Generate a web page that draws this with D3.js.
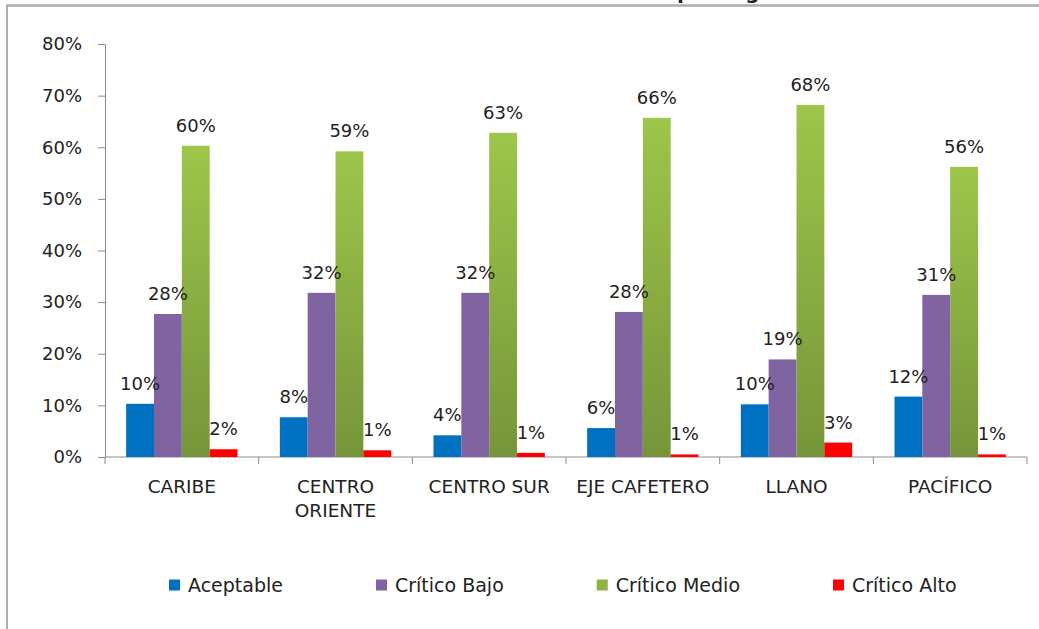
<!DOCTYPE html>
<html>
<head>
<meta charset="utf-8">
<script src="https://cdn.jsdelivr.net/npm/d3@7/dist/d3.min.js"></script>
<style>
  body { margin: 0; background: #fff; }
  text { font-family: "DejaVu Sans", sans-serif; fill: #222; }
  .axis path, .axis line { stroke: #8c8c8c; }
</style>
</head>
<body>
<div id="chart"></div>
<script>
var regions = ["CARIBE", "CENTRO ORIENTE", "CENTRO SUR", "EJE CAFETERO", "LLANO", "PACÍFICO"];
var seriesNames = ["Aceptable", "Crítico Bajo", "Crítico Medio", "Crítico Alto"];
var aceptable = [10.3, 7.7, 4.2, 5.6, 10.2, 11.7];
var criticoBajo = [27.7, 31.8, 31.8, 28.1, 18.9, 31.4];
var criticoMedio = [60.3, 59.2, 62.8, 65.7, 68.2, 56.2];
var criticoAlto = [1.5, 1.3, 0.8, 0.5, 2.8, 0.5];
var yTicks = [0, 10, 20, 30, 40, 50, 60, 70, 80];
var colors = ["#0070C0", "#8064A2", "url(#greenGrad)", "#FF0000"];
var legendColors = ["#0070C0", "#8064A2", "#8DB443", "#FF0000"];

var allSeries = [aceptable, criticoBajo, criticoMedio, criticoAlto];

var width = 1039, height = 629;
var margin = { top: 44, right: 12, bottom: 172, left: 105 };

var svg = d3.select("#chart").append("svg")
  .attr("width", width)
  .attr("height", height);

// green bars have a light-to-dark fade
var grad = svg.append("defs").append("linearGradient")
  .attr("id", "greenGrad")
  .attr("x1", 0).attr("y1", 0).attr("x2", 0).attr("y2", 1);
grad.append("stop").attr("offset", "0%").attr("stop-color", "#9DC64A");
grad.append("stop").attr("offset", "100%").attr("stop-color", "#76953A");

// frame (top and left edges only)
svg.append("line")
  .attr("x1", 6).attr("x2", width).attr("y1", 5.5).attr("y2", 5.5)
  .attr("stroke", "#adadad").attr("stroke-width", 2.5);
svg.append("line")
  .attr("x1", 7).attr("x2", 7).attr("y1", 5).attr("y2", height)
  .attr("stroke", "#adadad").attr("stroke-width", 2);

// title sits above the crop, only the descenders show
svg.append("text")
  .attr("x", 677)
  .attr("y", -1.5)
  .style("font-weight", "bold")
  .style("font-size", "20px")
  .text("por región");

var x0 = d3.scaleBand()
  .domain(regions)
  .range([margin.left, width - margin.right])
  .padding(0);

var x1 = d3.scaleBand()
  .domain(seriesNames)
  .range([0, x0.bandwidth()])
  .paddingInner(0)
  .paddingOuter(0.76);

var y = d3.scaleLinear()
  .domain([0, 80])
  .range([457, margin.top]);

// y axis
var yAxis = d3.axisLeft(y)
  .tickValues(yTicks)
  .tickFormat(function (d) { return d + "%"; })
  .tickSize(7)
  .tickSizeOuter(0)
  .tickPadding(16);

svg.append("g")
  .attr("class", "axis")
  .attr("transform", "translate(" + margin.left + ",0)")
  .call(yAxis)
  .selectAll("text")
  .style("font-size", "18px")
  .style("fill", "#222");

// x axis line with ticks at the group boundaries
var xg = svg.append("g").attr("class", "axis");
xg.append("line")
  .attr("x1", x0.range()[0]).attr("x2", x0.range()[1])
  .attr("y1", y(0)).attr("y2", y(0));
var bounds = regions.map(function (r) { return x0(r); }).concat([x0.range()[1]]);
xg.selectAll(".xtick")
  .data(bounds)
  .enter().append("line")
  .attr("class", "xtick")
  .attr("x1", function (d) { return d; })
  .attr("x2", function (d) { return d; })
  .attr("y1", y(0))
  .attr("y2", y(0) + 7);

// category labels, wrapped when wider than the band
var catLabels = svg.selectAll(".cat")
  .data(regions)
  .enter().append("text")
  .attr("class", "cat")
  .attr("x", function (d) { return x0(d) + x0.bandwidth() / 2; })
  .attr("y", 493)
  .style("text-anchor", "middle")
  .style("font-size", "18.5px")
  .text(function (d) { return d; });

catLabels.each(function (d) {
  var t = d3.select(this);
  if (this.getComputedTextLength() > x0.bandwidth() - 4) {
    var words = d.split(" ");
    t.text(null);
    words.forEach(function (w, i) {
      t.append("tspan")
        .attr("x", x0(d) + x0.bandwidth() / 2)
        .attr("dy", i === 0 ? 0 : 24)
        .text(w);
    });
  }
});

// bars
var groups = svg.selectAll(".region")
  .data(regions)
  .enter().append("g")
  .attr("class", "region")
  .attr("transform", function (d) { return "translate(" + x0(d) + ",0)"; });

groups.selectAll("rect")
  .data(function (d, i) {
    return seriesNames.map(function (s, j) { return { s: s, j: j, v: allSeries[j][i] }; });
  })
  .enter().append("rect")
  .attr("x", function (d) { return x1(d.s); })
  .attr("width", x1.bandwidth())
  .attr("y", function (d) { return y(d.v); })
  .attr("height", function (d) { return y(0) - y(d.v); })
  .attr("fill", function (d) { return colors[d.j]; });

// value labels go on top of everything
groups.selectAll(".lbl")
  .data(function (d, i) {
    return seriesNames.map(function (s, j) { return { s: s, j: j, v: allSeries[j][i] }; });
  })
  .enter().append("text")
  .attr("class", "lbl")
  .attr("x", function (d) { return x1(d.s) + x1.bandwidth() / 2; })
  .attr("y", function (d) { return y(d.v) - 14; })
  .style("text-anchor", "middle")
  .style("font-size", "18px")
  .text(function (d) { return Math.round(d.v) + "%"; });

// legend
var legend = svg.append("g").attr("transform", "translate(169,585)");
var lx = 0;
seriesNames.forEach(function (s, i) {
  legend.append("rect")
    .attr("x", lx).attr("y", -5.5)
    .attr("width", 11).attr("height", 11)
    .attr("fill", legendColors[i]);
  var t = legend.append("text")
    .attr("x", lx + 19)
    .attr("y", 7)
    .style("font-size", "19px")
    .text(s);
  lx += 19 + t.node().getComputedTextLength() + 93;
});
</script>
</body>
</html>
